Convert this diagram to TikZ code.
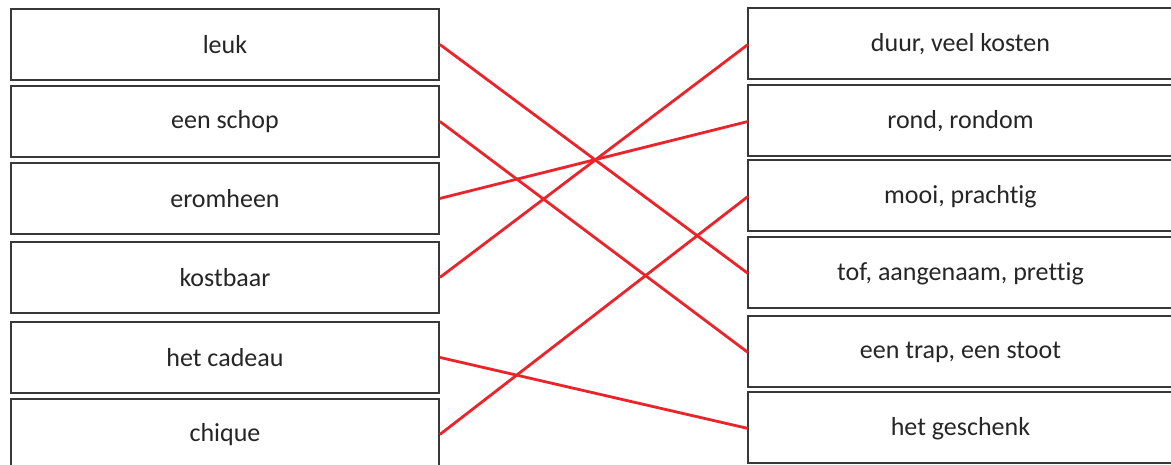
\documentclass[tikz,border=0pt]{standalone}
\usepackage{fontspec}
\setmainfont{Carlito}[Ligatures=NoCommon]
\usetikzlibrary{positioning}
\definecolor{matchred}{RGB}{234,36,42}
\tikzset{
  boxline/.style={draw=black!78, line width=1.9pt},
  wordbox/.style={boxline, fill=white, text=black!85,
    anchor=north west, minimum height=71pt, inner sep=0pt},
  matchline/.style={draw=matchred, line width=2.8pt}
}

\begin{document}
\begin{tikzpicture}[x=1pt, y=-1pt, font=\fontsize{26}{31}\selectfont]
  \useasboundingbox (0,0) rectangle (1171,465);
  % linkerkolom: de woorden
  \foreach \wn/\wy/\wt in {1/8/leuk, 2/85/een schop, 3/162/eromheen,
    4/241/kostbaar, 5/321/het cadeau, 6/398/chique}
    \node[wordbox, minimum width=428pt] (l\wn) at (10,\wy) {\wt};
  % rechterkolom: de betekenissen (loopt door tot voorbij de rand)
  \foreach \wn/\wy/\wt in {1/8/{duur, veel kosten}, 2/85/{rond, rondom},
    3/160/{mooi, prachtig}, 4/237/{tof, aangenaam, prettig},
    5/316/{een trap, een stoot}, 6/392/{het geschenk}}
  { \node[wordbox, draw=none, minimum width=423pt] (r\wn) at (748,\wy) {\wt};
    \draw[boxline] (r\wn.north west) rectangle ++(450,71); }
  % de verbindingen
  \draw[matchline] (l1.east) -- (r4.west);
  \draw[matchline] (l2.east) -- (r5.west);
  \draw[matchline] (l3.east) -- (r2.west);
  \draw[matchline] (l4.east) -- (r1.west);
  \draw[matchline] (l5.east) -- (r6.west);
  \draw[matchline] (l6.east) -- (r3.west);
\end{tikzpicture}
\end{document}
